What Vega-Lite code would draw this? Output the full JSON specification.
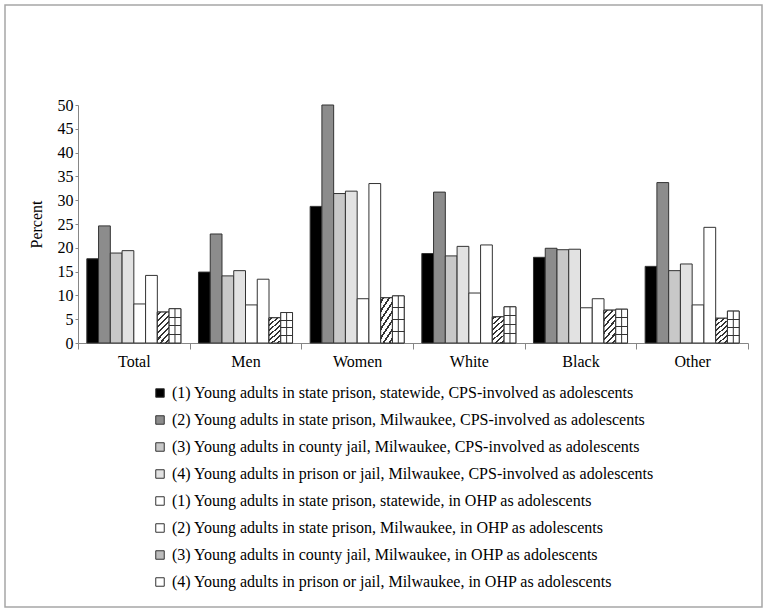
{
  "$schema": "https://vega.github.io/schema/vega-lite/v6.json",
  "autosize": {"type": "none"},
  "padding": {"left": 78, "right": 23, "top": 105, "bottom": 271},
  "width": 670,
  "height": 238,
  "config": {
    "font": "Liberation Serif",
    "view": {"stroke": null},
    "axis": {"labelColor": "#000", "titleColor": "#000", "domainColor": "#868686", "tickColor": "#868686", "grid": false}
  },
  "datasets": {
    "series": [
      {"k": 1, "label": "(1) Young adults in state prison, statewide, CPS-involved as adolescents"},
      {"k": 2, "label": "(2) Young adults in state prison, Milwaukee, CPS-involved as adolescents"},
      {"k": 3, "label": "(3) Young adults in county jail, Milwaukee, CPS-involved as adolescents"},
      {"k": 4, "label": "(4) Young adults in prison or jail, Milwaukee, CPS-involved as adolescents"},
      {"k": 5, "label": "(1) Young adults in state prison, statewide, in OHP as adolescents"},
      {"k": 6, "label": "(2) Young adults in state prison, Milwaukee, in OHP as adolescents"},
      {"k": 7, "label": "(3) Young adults in county jail, Milwaukee, in OHP as adolescents"},
      {"k": 8, "label": "(4) Young adults in prison or jail, Milwaukee, in OHP as adolescents"}
    ]
  },
  "data": {
    "values": [
      {"group": "Total", "k": 1, "value": 17.7},
      {"group": "Total", "k": 2, "value": 24.6},
      {"group": "Total", "k": 3, "value": 18.9},
      {"group": "Total", "k": 4, "value": 19.4},
      {"group": "Total", "k": 5, "value": 8.2},
      {"group": "Total", "k": 6, "value": 14.2},
      {"group": "Total", "k": 7, "value": 6.5},
      {"group": "Total", "k": 8, "value": 7.2},
      {"group": "Men", "k": 1, "value": 14.9},
      {"group": "Men", "k": 2, "value": 22.9},
      {"group": "Men", "k": 3, "value": 14.1},
      {"group": "Men", "k": 4, "value": 15.2},
      {"group": "Men", "k": 5, "value": 8.0},
      {"group": "Men", "k": 6, "value": 13.4},
      {"group": "Men", "k": 7, "value": 5.3},
      {"group": "Men", "k": 8, "value": 6.4},
      {"group": "Women", "k": 1, "value": 28.7},
      {"group": "Women", "k": 2, "value": 50},
      {"group": "Women", "k": 3, "value": 31.4},
      {"group": "Women", "k": 4, "value": 31.9},
      {"group": "Women", "k": 5, "value": 9.3},
      {"group": "Women", "k": 6, "value": 33.5},
      {"group": "Women", "k": 7, "value": 9.5},
      {"group": "Women", "k": 8, "value": 9.9},
      {"group": "White", "k": 1, "value": 18.8},
      {"group": "White", "k": 2, "value": 31.7},
      {"group": "White", "k": 3, "value": 18.3},
      {"group": "White", "k": 4, "value": 20.3},
      {"group": "White", "k": 5, "value": 10.5},
      {"group": "White", "k": 6, "value": 20.6},
      {"group": "White", "k": 7, "value": 5.5},
      {"group": "White", "k": 8, "value": 7.6},
      {"group": "Black", "k": 1, "value": 18.0},
      {"group": "Black", "k": 2, "value": 19.9},
      {"group": "Black", "k": 3, "value": 19.6},
      {"group": "Black", "k": 4, "value": 19.7},
      {"group": "Black", "k": 5, "value": 7.4},
      {"group": "Black", "k": 6, "value": 9.3},
      {"group": "Black", "k": 7, "value": 6.9},
      {"group": "Black", "k": 8, "value": 7.1},
      {"group": "Other", "k": 1, "value": 16.1},
      {"group": "Other", "k": 2, "value": 33.7},
      {"group": "Other", "k": 3, "value": 15.2},
      {"group": "Other", "k": 4, "value": 16.6},
      {"group": "Other", "k": 5, "value": 8.0},
      {"group": "Other", "k": 6, "value": 24.3},
      {"group": "Other", "k": 7, "value": 5.2},
      {"group": "Other", "k": 8, "value": 6.7}
    ]
  },
  "transform": [
    {"lookup": "k", "from": {"data": {"name": "series"}, "key": "k", "fields": ["label"]}}
  ],
  "encoding": {
    "x": {
      "field": "group", "type": "nominal",
      "scale": {"domain": ["Total", "Men", "Women", "White", "Black", "Other"], "paddingInner": 0, "paddingOuter": 0},
      "axis": {"title": null, "labelAngle": 0, "labelFontSize": 16, "labelPadding": 4, "tickSize": 6, "tickBand": "extent"}
    },
    "xOffset": {"field": "k", "type": "ordinal", "scale": {"paddingInner": 0, "paddingOuter": 0.75}},
    "y": {
      "field": "value", "type": "quantitative",
      "scale": {"domain": [0, 50], "nice": false},
      "axis": {"title": "Percent", "values": [0, 5, 10, 15, 20, 25, 30, 35, 40, 45, 50], "labelFontSize": 16, "titleFontSize": 16, "titleFontWeight": "normal", "titlePadding": 13, "tickSize": 3, "labelPadding": 2}
    }
  },
  "layer": [
    {
      "mark": {"type": "bar", "stroke": "#333", "strokeWidth": 1},
      "encoding": {
        "color": {
          "field": "label", "type": "nominal",
          "scale": {
            "domain": [
              "(1) Young adults in state prison, statewide, CPS-involved as adolescents",
              "(2) Young adults in state prison, Milwaukee, CPS-involved as adolescents",
              "(3) Young adults in county jail, Milwaukee, CPS-involved as adolescents",
              "(4) Young adults in prison or jail, Milwaukee, CPS-involved as adolescents",
              "(1) Young adults in state prison, statewide, in OHP as adolescents",
              "(2) Young adults in state prison, Milwaukee, in OHP as adolescents",
              "(3) Young adults in county jail, Milwaukee, in OHP as adolescents",
              "(4) Young adults in prison or jail, Milwaukee, in OHP as adolescents"
            ],
            "range": ["#000000", "#8c8c8c", "#c8c8c8", "#e2e2e2", "#ffffff", "#ffffff", "#bdbdbd", "#ffffff"]
          },
          "legend": {
            "orient": "none", "legendX": 74, "legendY": 280, "title": null, "padding": 0,
            "symbolType": "square", "symbolSize": 72, "symbolStrokeColor": "#333", "symbolStrokeWidth": 1,
            "labelFontSize": 16, "labelColor": "#000", "labelLimit": 700, "labelOffset": 4, "rowPadding": 11,
            "encode": {"symbols": {"update": {"stroke": {"value": "#333"}, "strokeWidth": {"value": 1}}}}
          }
        }
      }
    },
    {
      "transform": [{"filter": "datum.k == 7"}],
      "mark": {
        "type": "bar", "stroke": "#333", "strokeWidth": 1,
        "fill": {
          "gradient": "linear", "x1": 0, "y1": 0, "x2": 0.48, "y2": 1.2,
          "stops": [
            {"offset": 0, "color": "#fff"},
            {"offset": 0.046, "color": "#fff"}, {"offset": 0.046, "color": "#333"}, {"offset": 0.096, "color": "#333"}, {"offset": 0.096, "color": "#fff"},
            {"offset": 0.189, "color": "#fff"}, {"offset": 0.189, "color": "#333"}, {"offset": 0.239, "color": "#333"}, {"offset": 0.239, "color": "#fff"},
            {"offset": 0.332, "color": "#fff"}, {"offset": 0.332, "color": "#333"}, {"offset": 0.382, "color": "#333"}, {"offset": 0.382, "color": "#fff"},
            {"offset": 0.475, "color": "#fff"}, {"offset": 0.475, "color": "#333"}, {"offset": 0.525, "color": "#333"}, {"offset": 0.525, "color": "#fff"},
            {"offset": 0.618, "color": "#fff"}, {"offset": 0.618, "color": "#333"}, {"offset": 0.668, "color": "#333"}, {"offset": 0.668, "color": "#fff"},
            {"offset": 0.761, "color": "#fff"}, {"offset": 0.761, "color": "#333"}, {"offset": 0.811, "color": "#333"}, {"offset": 0.811, "color": "#fff"},
            {"offset": 0.904, "color": "#fff"}, {"offset": 0.904, "color": "#333"}, {"offset": 0.954, "color": "#333"}, {"offset": 0.954, "color": "#fff"},
            {"offset": 1, "color": "#fff"}
          ]
        }
      }
    },
    {
      "transform": [{"filter": "datum.k == 8"}],
      "mark": {
        "type": "bar", "stroke": "#333", "strokeWidth": 1,
        "fill": {
          "gradient": "linear", "x1": 0, "y1": 0, "x2": 0, "y2": 1,
          "stops": [
            {"offset": 0, "color": "#fff"},
            {"offset": 0.235, "color": "#fff"}, {"offset": 0.235, "color": "#333"}, {"offset": 0.265, "color": "#333"}, {"offset": 0.265, "color": "#fff"},
            {"offset": 0.485, "color": "#fff"}, {"offset": 0.485, "color": "#333"}, {"offset": 0.515, "color": "#333"}, {"offset": 0.515, "color": "#fff"},
            {"offset": 0.735, "color": "#fff"}, {"offset": 0.735, "color": "#333"}, {"offset": 0.765, "color": "#333"}, {"offset": 0.765, "color": "#fff"},
            {"offset": 1, "color": "#fff"}
          ]
        }
      }
    },
    {
      "transform": [{"filter": "datum.k == 8"}],
      "mark": {"type": "rule", "strokeWidth": 1},
      "encoding": {
        "y2": {"datum": 0},
        "stroke": {
          "field": "value", "type": "quantitative",
          "scale": {"range": ["#333", "#333"]},
          "legend": {
            "orient": "none", "legendX": -73, "legendY": -100, "direction": "vertical", "title": null, "padding": 0,
            "gradientLength": 602, "gradientThickness": 757, "gradientStrokeColor": "#a6a6a6", "gradientStrokeWidth": 1.5,
            "labelExpr": "''", "labelOpacity": 0, "labelFontSize": 1,
            "encode": {"gradient": {"update": {"fill": {"value": "transparent"}}}}
          }
        }
      }
    }
  ]
}
